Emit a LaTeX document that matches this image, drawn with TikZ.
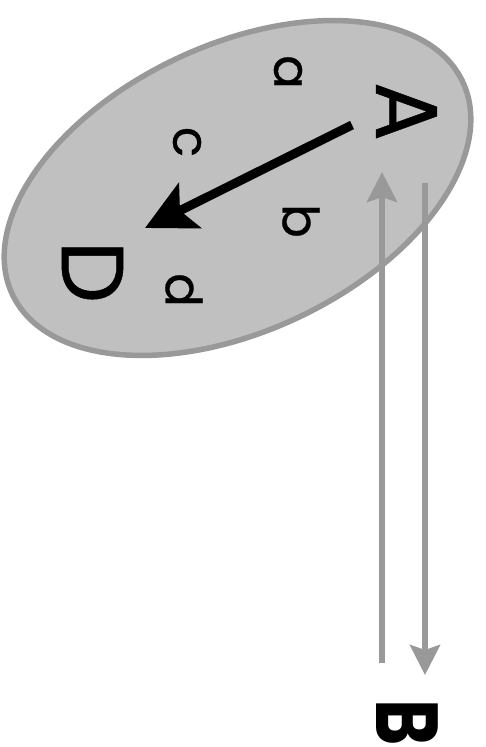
\documentclass[tikz,border=0pt]{standalone}
\usepackage{fontspec}
\setmainfont{Poppins}[UprightFeatures={FakeBold=0.5}]
\usepackage{xcolor}
\usetikzlibrary{arrows.meta}
\definecolor{ringgray}{gray}{0.6}
\definecolor{setgray}{gray}{0.753}

\begin{document}
\begin{tikzpicture}[x=1pt,y=1pt,
 ptl/.style={rotate=-90,inner sep=0pt,font=\fontsize{88}{88}\selectfont},
 lbl/.style={rotate=-90,inner sep=0pt,font=\fontsize{50}{50}\selectfont},
 big/.style={-{Stealth[length=50pt,width=50pt,inset=11pt]},line width=9pt},
 g/.style={-{Stealth[length=30pt,width=30pt,inset=5pt]},line width=6pt,draw=ringgray}]
\useasboundingbox (0,0) rectangle (486,-747);
\filldraw[fill=setgray,draw=ringgray,line width=5.5pt]
 (237.5,-188) ellipse [x radius=249,y radius=143,rotate=25.3];
\node[ptl] (A) at (406.5,-111.5) {A};
\node[ptl] (D) at (92.5,-272) {D};
\node[ptl,xscale=0.8,font=\fontsize{88}{88}\selectfont\bfseries] (B) at (407.5,-722.5) {B};
\node[lbl] (a) at (288,-72) {a};
\node[lbl] (c) at (187,-142) {c};
\node[lbl] (b) at (301,-221) {b};
\node[lbl] (d) at (184,-290) {d};
\draw[big] ([shift={(-54.5,-13.5)}]A.center) -- ([shift={(52.5,44)}]D.center);
\draw[g] ([shift={(-25.5,59.5)}]B.center) -- ([shift={(-24.5,-60.5)}]A.center);
\draw[g] ([shift={(18.5,-71.5)}]A.center) -- ([shift={(17.5,47.5)}]B.center);
\end{tikzpicture}
\end{document}
